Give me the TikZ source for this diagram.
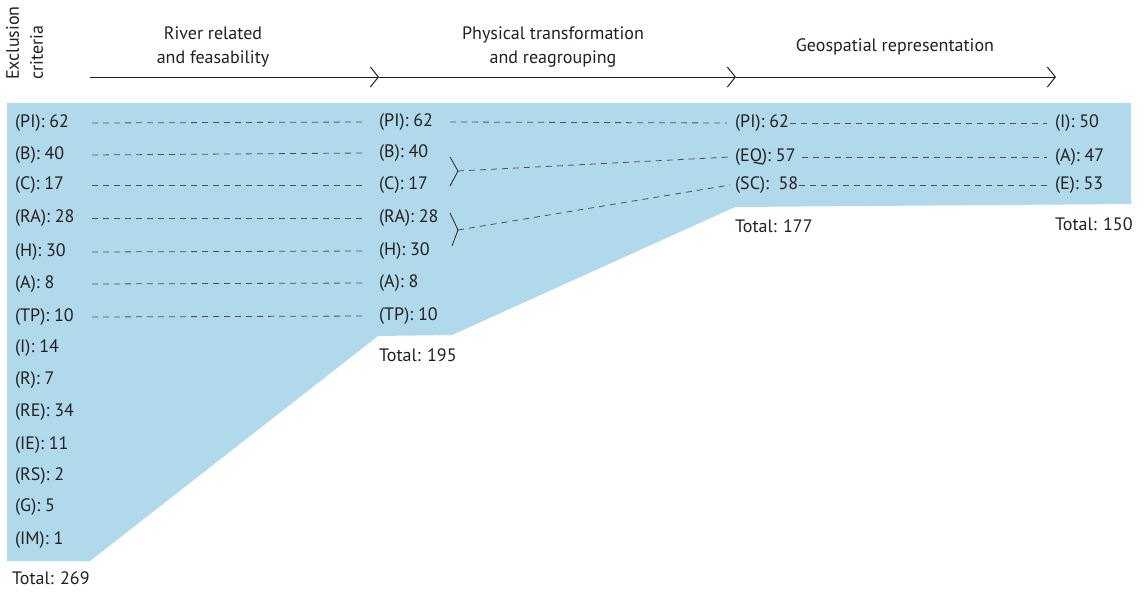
\documentclass[tikz,border=0pt]{standalone}
\usepackage{fontspec}
\setmainfont{PT Sans}
\usetikzlibrary{arrows.meta}
\definecolor{bgblue}{HTML}{B0DAEB}
\definecolor{txt}{HTML}{231F20}
\definecolor{dashc}{HTML}{505050}
\begin{document}
\begin{tikzpicture}[x=1pt,y=-1pt,
  lab/.style={anchor=west,inner sep=0pt,text=txt,font=\fontsize{18}{20}\selectfont},
  head/.style={align=center,inner sep=0pt,text=txt,font=\fontsize{18}{24}\selectfont},
  dline/.style={draw=dashc,line width=0.8pt,dash pattern=on 6pt off 5pt},
  brace/.style={draw=txt,line width=0.8pt},
  axis/.style={draw=txt,line width=1pt,-{Straight Barb[length=8pt,width=20pt,line width=1pt]}}]
\useasboundingbox (0,0) rectangle (1144,592);
% background band
\fill[bgblue] (7,103) -- (1131,103) -- (1131,204) -- (735,207) -- (452,335) -- (378,336) -- (90,561) -- (7,561) -- cycle;
% headers
\node[rotate=90,anchor=north west,align=left,inner sep=0pt,text=txt,font=\fontsize{18}{24}\selectfont] (ex) at (6,80) {Exclusion\\criteria};
\node[head] (h1) at (213,47) {River related\\and feasability};
\node[head] (h2) at (553,47) {Physical transformation\\and reagrouping};
\node[head] (h3) at (895,47) {Geospatial representation};
% axis
\coordinate (x0) at (90,77);
\coordinate (x1) at (379,77);
\coordinate (x2) at (736,77);
\coordinate (x3) at (1056,77);
\draw[axis] (x0) -- (x1);
\draw[axis] (x1) -- (x2);
\draw[axis] (x2) -- (x3);
% column 1
\node[lab] (a1) at (15,123) {(PI): 62};
\node[lab] (a2) at (15,155) {(B): 40};
\node[lab] (a3) at (15,185) {(C): 17};
\node[lab] (a4) at (15,218) {(RA): 28};
\node[lab] (a5) at (15,252) {(H): 30};
\node[lab] (a6) at (15,284) {(A): 8};
\node[lab] (a7) at (15,317) {(TP): 10};
\node[lab] (a8) at (15,348) {(I): 14};
\node[lab] (a9) at (15,380) {(R): 7};
\node[lab] (a10) at (15,412) {(RE): 34};
\node[lab] (a11) at (15,445) {(IE): 11};
\node[lab] (a12) at (15,476) {(RS): 2};
\node[lab] (a13) at (15,507) {(G): 5};
\node[lab] (a14) at (15,540) {(IM): 1};
\node[lab] (t1) at (12,578) {Total: 269};
% column 2
\node[lab] (b1) at (379,122) {(PI): 62};
\node[lab] (b2) at (379,153) {(B): 40};
\node[lab] (b3) at (379,185) {(C): 17};
\node[lab] (b4) at (379,218) {(RA): 28};
\node[lab] (b5) at (379,251) {(H): 30};
\node[lab] (b6) at (379,283) {(A): 8};
\node[lab] (b7) at (379,316) {(TP): 10};
\node[lab] (t2) at (379,355) {Total: 195};
% column 3
\node[lab] (c1) at (735,123) {(PI): 62};
\node[lab] (c2) at (735,157) {(EQ): 57};
\node[lab] (c3) at (735,185) {(SC):\ \ 58};
\node[lab] (t3) at (735,226) {Total: 177};
% column 4
\node[lab] (d1) at (1055,123) {(I): 50};
\node[lab] (d2) at (1055,157) {(A): 47};
\node[lab] (d3) at (1055,185) {(E): 53};
\node[lab] (t4) at (1055,224) {Total: 150};
% dashed links col1 -> col2
\foreach \i in {1,...,7}{
  \draw[dline] ([xshift=77pt]a\i.west) -- ([xshift=-14pt]b\i.west);
}
% braces in col2
\coordinate (v1) at (458,171);
\coordinate (v2) at (458,230);
\draw[brace] (450,157) -- (v1) -- (450,186);
\draw[brace] (450,213) -- (v2) -- (452,246);
% col2 -> col3
\draw[dline] ([xshift=71pt]b1.west) -- ([xshift=-8pt]c1.west);
\draw[dline] (v1) -- ([xshift=-5pt]c2.west);
\draw[dline] (v2) -- ([xshift=-5pt]c3.west);
% col3 -> col4
\draw[dline] ([xshift=1pt]c1.east) -- ([xshift=-8pt]d1.west);
\draw[dline] ([xshift=6pt]c2.east) -- ([xshift=-8pt]d2.west);
\draw[dline] ([xshift=1pt]c3.east) -- ([xshift=-8pt]d3.west);
\end{tikzpicture}
\end{document}
